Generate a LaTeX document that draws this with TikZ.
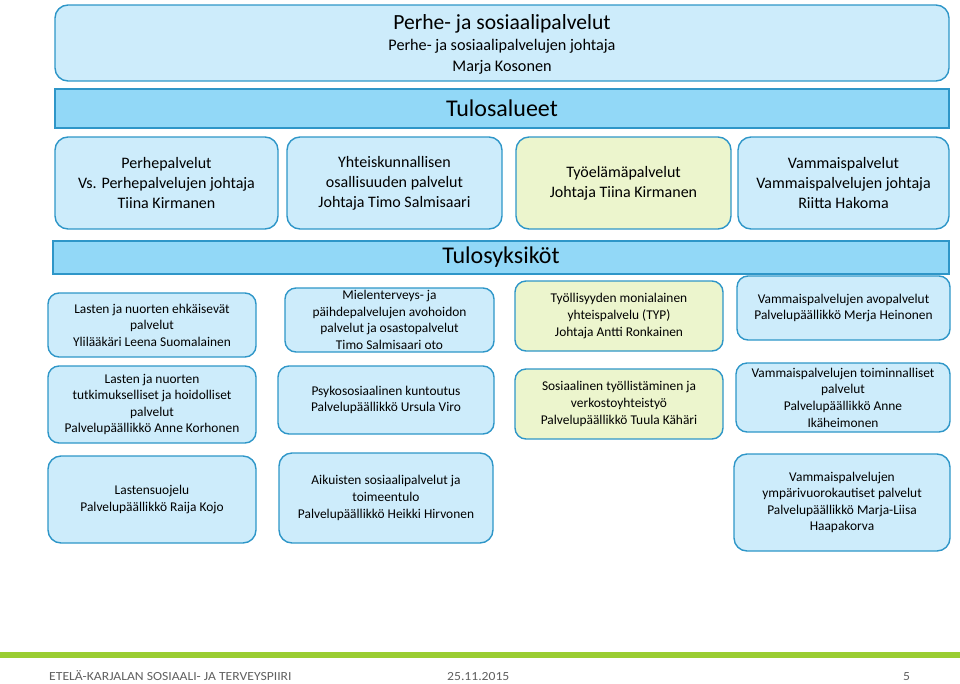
\documentclass[tikz,border=0pt]{standalone}
\usepackage{fontspec}
\setmainfont{Carlito}
\newfontfamily\footF[FakeStretch=1.1]{Carlito}
\definecolor{boxc}{RGB}{205,236,251}
\definecolor{bordc}{RGB}{46,150,200}
\definecolor{barc}{RGB}{146,216,247}
\definecolor{yelc}{RGB}{236,245,205}
\definecolor{greenc}{RGB}{154,205,50}
\definecolor{footc}{RGB}{95,95,95}
\begin{document}
\begin{tikzpicture}[x=1pt,y=-1pt,
  sz/.style 2 args={minimum width=#1pt, minimum height=#2pt},
  box/.style={draw=bordc, line width=1.4pt, fill=boxc, rounded corners=11pt, align=center, inner sep=1pt},
  ybox/.style={box, fill=yelc},
  bar/.style={draw=bordc, line width=1.2pt, fill=barc, inner sep=0pt, font=\fontsize{24}{28}\selectfont},
  tone/.style={font=\fontsize{16}{20}\selectfont},
  ttwo/.style={font=\fontsize{13.4}{16.6}\selectfont},
  tfour/.style={font=\fontsize{13.4}{16.6}\selectfont},
  foot/.style={font=\footF\fontsize{12.4}{14}\selectfont, text=footc, inner sep=0pt, text depth=0pt}
]
\useasboundingbox (0,0) rectangle (960,683);

% header
\node[box, sz={894}{76}, rounded corners=13pt] (hdr) at (502,43) {};
\node[inner sep=0pt, font=\fontsize{21.6}{26}\selectfont] (hdrT) at (502,24) {Perhe- ja sosiaalipalvelut};
\node[inner sep=0pt, font=\fontsize{16.2}{18}\selectfont] (hdrA) at (502,46) {Perhe- ja sosiaalipalvelujen johtaja};
\node[inner sep=0pt, font=\fontsize{16.2}{18}\selectfont] (hdrB) at (502,67) {Marja Kosonen};

% Tulosalueet
\node[bar, sz={894}{39}] (alueet) at (502,108.5) {Tulosalueet};

% row 1
\node[box, tone, sz={223}{92}, rounded corners=13pt] (r1a) at (166.5,183) {Perhepalvelut\\Vs. Perhepalvelujen johtaja\\Tiina Kirmanen};
\node[box, tone, sz={215}{92}, rounded corners=13pt] (r1b) at (394.5,183) {Yhteiskunnallisen\\osallisuuden palvelut\\Johtaja Timo Salmisaari};
\node[ybox, tone, sz={215}{92}, rounded corners=13pt] (r1c) at (623.5,183) {Työelämäpalvelut\\Johtaja Tiina Kirmanen};
\node[box, tone, sz={211}{92}, rounded corners=13pt] (r1d) at (843.5,183) {Vammaispalvelut\\Vammaispalvelujen johtaja\\Riitta Hakoma};

% Tulosyksiköt
\node[bar, sz={896}{33}] (yksikot) at (501,257.5) {Tulosyksiköt};

% row 2
\node[box, ttwo, sz={208}{64}] (r2a) at (152,325) {Lasten ja nuorten ehkäisevät\\palvelut\\Ylilääkäri Leena Suomalainen};
\node[box, ttwo, sz={209}{64}] (r2b) at (389.5,320) {Mielenterveys- ja\\päihdepalvelujen avohoidon\\palvelut ja osastopalvelut\\Timo Salmisaari oto};
\node[ybox, ttwo, sz={208}{70}] (r2c) at (619,316) {Työllisyyden monialainen\\yhteispalvelu (TYP)\\Johtaja Antti Ronkainen};
\node[box, ttwo, sz={213}{64}] (r2d) at (843.5,308) {Vammaispalvelujen avopalvelut\\Palvelupäällikkö Merja Heinonen};

% row 3
\node[box, ttwo, sz={208}{77}] (r3a) at (152,404.5) {Lasten ja nuorten\\tutkimukselliset ja hoidolliset\\palvelut\\Palvelupäällikkö Anne Korhonen};
\node[box, ttwo, sz={216}{68}] (r3b) at (386,400) {Psykososiaalinen kuntoutus\\Palvelupäällikkö Ursula Viro};
\node[ybox, ttwo, sz={208}{70}] (r3c) at (619,404) {Sosiaalinen työllistäminen ja\\verkostoyhteistyö\\Palvelupäällikkö Tuula Kähäri};
\node[box, ttwo, sz={214}{69}] (r3d) at (843,397.5) {Vammaispalvelujen toiminnalliset\\palvelut\\Palvelupäällikkö Anne\\Ikäheimonen};

% row 4
\node[box, tfour, sz={208}{87}, rounded corners=13pt] (r4a) at (152,499.5) {Lastensuojelu\\Palvelupäällikkö Raija Kojo};
\node[box, tfour, sz={214}{90}, rounded corners=13pt] (r4b) at (386,498) {Aikuisten sosiaalipalvelut ja\\toimeentulo\\Palvelupäällikkö Heikki Hirvonen};
\node[box, tfour, sz={216}{97}, rounded corners=13pt] (r4d) at (842,502.5) {Vammaispalvelujen\\ympärivuorokautiset palvelut\\Palvelupäällikkö Marja-Liisa\\Haapakorva};

% footer
\fill[greenc] (0,652) rectangle (960,658);
\node[foot, anchor=base west] (f1) at (49,680.5) {ETELÄ-KARJALAN SOSIAALI- JA TERVEYSPIIRI};
\node[foot, anchor=base west] (f2) at (447,680.5) {25.11.2015};
\node[foot, anchor=base west] (f3) at (903,680.5) {5};
\end{tikzpicture}
\end{document}
